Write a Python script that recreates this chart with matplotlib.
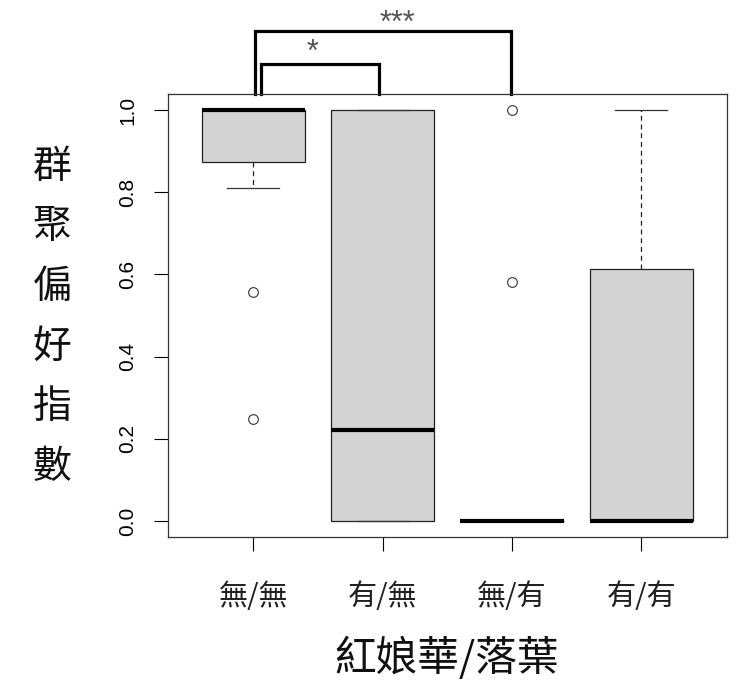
import numpy as np
import matplotlib
matplotlib.use("Agg")
import matplotlib.pyplot as plt

plt.rcParams["font.family"] = ["Noto Sans CJK TC", "DejaVu Sans"]

# group labels and box statistics
groups = ["無/無", "有/無", "無/有", "有/有"]
whislo = [0.81, 0.0, 0.0, 0.0]
q1 = [0.873, 0.0, 0.0, 0.0]
med = [1.0, 0.221, 0.0, 0.0]
q3 = [1.0, 1.0, 0.0, 0.613]
whishi = [1.0, 1.0, 0.0, 1.0]
fliers = [[0.557, 0.248], [], [1.0, 0.581], []]

# significance brackets: (left x, right x, height, label, label x, label y)
sig_pairs = [(1.06, 1.975, 1.112, "*", 1.46, 1.148),
             (1.015, 2.995, 1.192, "***", 2.11, 1.217)]

yticks = [0.0, 0.2, 0.4, 0.6, 0.8, 1.0]
ylabel = "群聚偏好指數"
xlabel = "紅娘華/落葉"

stats = []
for i in range(len(groups)):
    stats.append(dict(whislo=whislo[i], q1=q1[i], med=med[i], q3=q3[i],
                      whishi=whishi[i], fliers=fliers[i], label=groups[i]))

fig = plt.figure(figsize=(7.4, 6.88), dpi=100)
ax = fig.add_axes([0.227, 0.219, 0.755, 0.645])

ax.bxp(stats, positions=[1, 2, 3, 4], widths=0.8, patch_artist=True,
       showfliers=True,
       boxprops=dict(facecolor="#d3d3d3", edgecolor="#222222", linewidth=0.9),
       medianprops=dict(color="black", linewidth=3.0, solid_capstyle="butt"),
       whiskerprops=dict(color="#222222", linewidth=0.9, linestyle=(0, (4, 3))),
       capprops=dict(color="#333333", linewidth=0.9),
       capwidths=0.4,
       flierprops=dict(marker="o", markersize=7, markerfacecolor="none",
                       markeredgecolor="#333333", markeredgewidth=0.8,
                       linestyle="none"))

ax.set_xlim(0.34, 4.66)
ax.set_ylim(-0.04, 1.04)

ax.set_yticks(yticks)
ax.set_yticklabels([f"{v:.1f}" for v in yticks], rotation=90, va="center",
                   fontfamily="Liberation Sans", fontsize=15)
ax.set_xticks([1, 2, 3, 4])
ax.set_xticklabels(groups, fontsize=21, color="#222222")
ax.tick_params(axis="y", length=10, width=0.8, pad=12)
ax.tick_params(axis="x", length=10, width=0.8, pad=22)
for s in ax.spines.values():
    s.set_linewidth(0.9)
    s.set_color("#333333")

# brackets above the plot
for xa, xb, h, lab, lx, ly in sig_pairs:
    ax.plot([xa, xa, xb, xb], [1.04, h, h, 1.04], color="black", linewidth=2.3,
            clip_on=False, solid_joinstyle="miter")
    ax.text(lx, ly, lab, ha="center", va="center_baseline",
            fontsize=22, color="#555555", fontfamily="Liberation Sans")

# vertical, stacked y label
for k, ch in enumerate(ylabel):
    fig.text(52 / 740, 1 - (167 + k * 60) / 688, ch, ha="center", va="center",
             fontsize=28, color="#111111")

fig.text(447 / 740, 1 - 658 / 688, xlabel, ha="center", va="center",
         fontsize=30, color="#111111")

fig.savefig("out.png", dpi=100)
